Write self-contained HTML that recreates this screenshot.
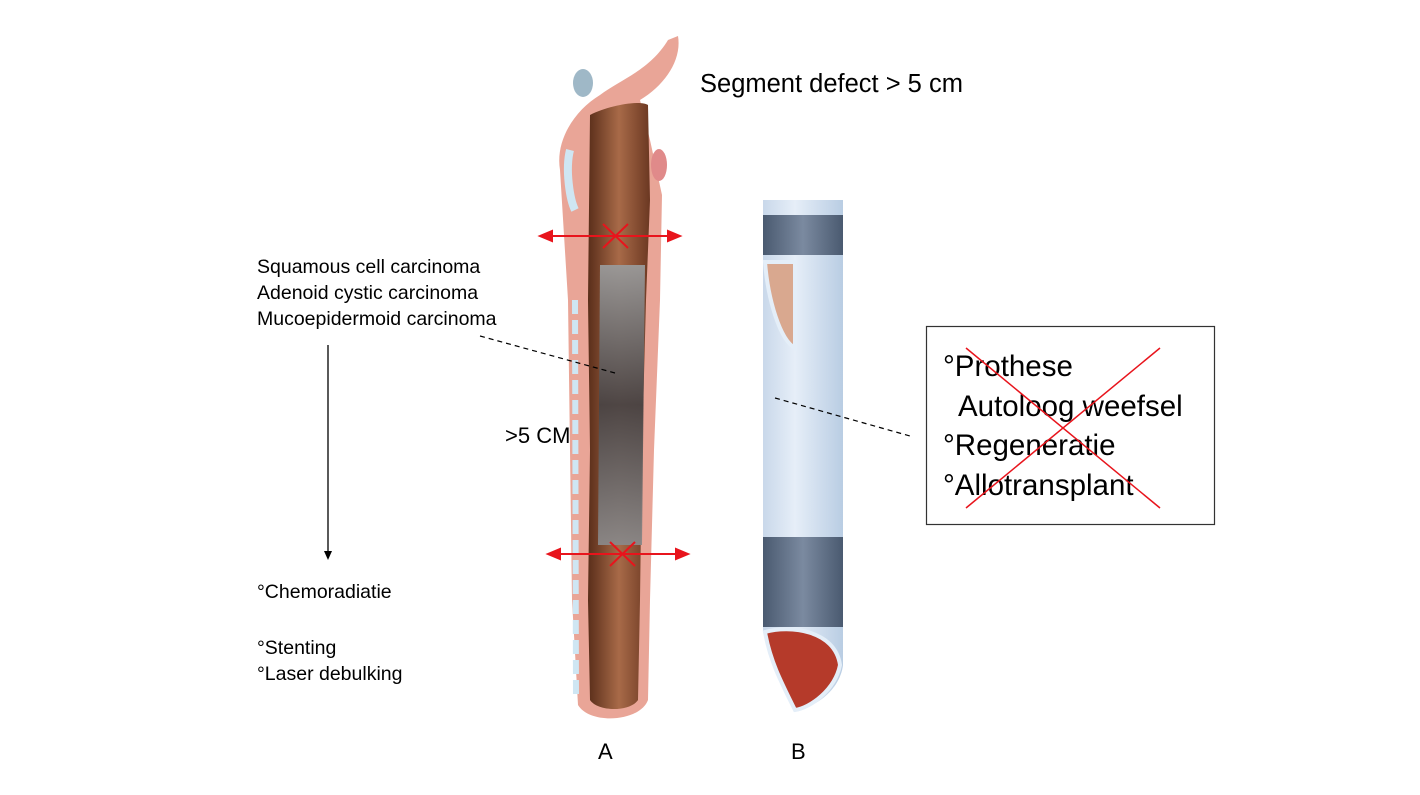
<!DOCTYPE html>
<html><head><meta charset="utf-8"><style>
body{margin:0;width:1420px;height:795px;background:#fff;overflow:hidden;font-family:"Liberation Sans",sans-serif;}
svg{position:absolute;left:0;top:0}
</style></head><body>
<svg width="1420" height="795" viewBox="0 0 1420 795">
<defs>
<linearGradient id="brown" x1="0" y1="0" x2="1" y2="0">
<stop offset="0" stop-color="#5a2e1a"/><stop offset="0.5" stop-color="#a86a48"/><stop offset="1" stop-color="#6b3822"/></linearGradient>
<linearGradient id="gray" x1="0" y1="0" x2="0" y2="1">
<stop offset="0" stop-color="#9a9a9a"/><stop offset="0.5" stop-color="#4a4444"/><stop offset="1" stop-color="#8a8888"/></linearGradient>
<linearGradient id="tube" x1="0" y1="0" x2="1" y2="0">
<stop offset="0" stop-color="#c9d8ea"/><stop offset="0.4" stop-color="#e6eef8"/><stop offset="1" stop-color="#b9cde3"/></linearGradient>
<linearGradient id="band" x1="0" y1="0" x2="1" y2="0">
<stop offset="0" stop-color="#4a5a70"/><stop offset="0.5" stop-color="#7b8aa0"/><stop offset="1" stop-color="#4a5a70"/></linearGradient>
</defs>
<!-- Trachea A -->
<path d="M560,170 C555,140 575,110 600,95 C620,80 650,70 668,40 L678,36 C682,60 665,85 640,100 L650,140 L662,195 L660,300 L654,450 L650,600 L648,700 C640,722 590,725 578,705 L572,600 L570,450 L568,300 Z" fill="#e9a597"/>
<path d="M590,115 C610,105 640,100 648,105 L650,200 L646,300 L642,450 L640,600 L638,700 C630,712 598,712 590,700 L588,600 L590,450 L588,300 Z" fill="url(#brown)"/>
<path d="M600,265 L645,265 L642,545 L598,545 Z" fill="url(#gray)" opacity="0.95"/>
<path d="M575,300 L576,700" stroke="#cfe6f3" stroke-width="6" stroke-dasharray="14,6"/>
<ellipse cx="583" cy="83" rx="10" ry="14" fill="#9fb8c7"/>
<path d="M570,150 C565,170 570,200 575,210" stroke="#cfe6f3" stroke-width="8" fill="none"/>
<ellipse cx="659" cy="165" rx="8" ry="16" fill="#e08a8a"/>
<!-- red arrows -->
<g stroke="#e8141c" stroke-width="2" fill="#e8141c">
<line x1="548" y1="236" x2="672" y2="236"/><path d="M540,236 L552,231 L552,241Z"/><path d="M680,236 L668,231 L668,241Z"/>
<line x1="603" y1="224" x2="628" y2="248"/><line x1="628" y1="224" x2="603" y2="248"/>
<line x1="556" y1="554" x2="680" y2="554"/><path d="M548,554 L560,549 L560,559Z"/><path d="M688,554 L676,549 L676,559Z"/>
<line x1="610" y1="542" x2="635" y2="566"/><line x1="635" y1="542" x2="610" y2="566"/>
</g>
<!-- Tube B -->
<path d="M763,200 L843,200 L843,665 C840,690 815,708 795,710 L763,632 Z" fill="url(#tube)"/>
<rect x="763" y="215" width="80" height="40" fill="url(#band)"/>
<rect x="763" y="537" width="80" height="90" fill="url(#band)"/>
<path d="M765,262 L795,262 L795,348 C780,340 768,300 765,262Z" fill="#d9a88f" stroke="#e4eef8" stroke-width="4"/>
<path d="M765,632 C790,625 835,630 840,665 C835,690 810,708 795,710 C780,680 770,660 765,632Z" fill="#b53a2a" stroke="#e4eef8" stroke-width="4"/>
<!-- dashed -->
<g stroke="#000" stroke-width="1.2" stroke-dasharray="5,4">
<line x1="480" y1="336" x2="615" y2="373"/><line x1="775" y1="398" x2="910" y2="436"/>
</g>
<!-- vertical arrow -->
<line x1="328" y1="345" x2="328" y2="552" stroke="#000" stroke-width="1.3"/>
<path d="M324,551 L332,551 L328,560Z" fill="#000"/>
<!-- box -->
<rect x="926.5" y="326.5" width="288" height="198" fill="none" stroke="#333" stroke-width="1.2"/>
<g font-family="Liberation Sans, sans-serif" fill="#000">
<text x="700" y="92" font-size="25.5">Segment defect &gt; 5 cm</text>
<text x="257" y="273" font-size="19.5">Squamous cell carcinoma</text>
<text x="257" y="299" font-size="19.5">Adenoid cystic carcinoma</text>
<text x="257" y="325" font-size="19.5">Mucoepidermoid carcinoma</text>
<text x="257" y="598" font-size="19.5">°Chemoradiatie</text>
<text x="257" y="654" font-size="19.5">°Stenting</text>
<text x="257" y="680" font-size="19.5">°Laser debulking</text>
<text x="505" y="443" font-size="22">&gt;5 CM</text>
<text x="598" y="759" font-size="22">A</text>
<text x="791" y="759" font-size="22">B</text>
<g font-size="29.5">
<text x="943" y="376">°Prothese</text>
<text x="958" y="416">Autoloog weefsel</text>
<text x="943" y="455">°Regeneratie</text>
<text x="943" y="495">°Allotransplant</text>
</g>
</g>
<g stroke="#e8141c" stroke-width="1.5">
<line x1="966" y1="348" x2="1160" y2="508"/><line x1="1160" y1="348" x2="966" y2="508"/>
</g>
</svg>
</body></html>
